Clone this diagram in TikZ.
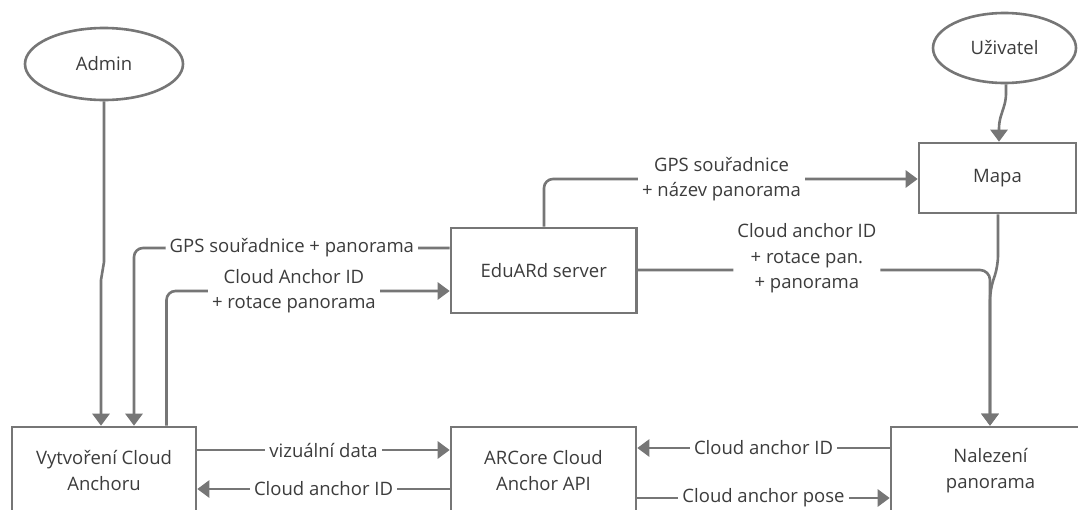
\documentclass[tikz,border=0pt]{standalone}
\usepackage{fontspec}
\setmainfont{Open Sans}
\usetikzlibrary{arrows.meta,shapes.geometric}
\definecolor{ln}{RGB}{118,118,118}
\definecolor{tx}{RGB}{60,60,60}
\begin{document}
\begin{tikzpicture}[x=1pt,y=-1pt,
  every node/.style={font=\fontsize{18.5}{25.5}\selectfont, text=tx},
  box/.style={draw=ln, line width=2.6pt, fill=white, rectangle, align=center, inner sep=0pt},
  actor/.style={draw=ln, line width=2.6pt, fill=white, ellipse, inner sep=0pt},
  conn/.style={draw=ln, line width=2.6pt, -{Triangle[length=12pt,width=17pt]}},
  lbl/.style={fill=white, inner xsep=4pt, inner ysep=1pt, align=center}]
\clip (0,0) rectangle (1078,509);
\fill[white] (0,0) rectangle (1078,509);

% nodes
\node[actor, minimum width=158pt, minimum height=72pt] (admin) at (104,64) {Admin};
\node[actor, minimum width=143pt, minimum height=70pt] (user) at (1004.5,48) {Uživatel};
\node[box, minimum width=157pt, minimum height=70pt] (mapa) at (997.5,178) {Mapa};
\node[box, minimum width=185.5pt, minimum height=85pt] (server) at (543.75,270.5) {EduARd server};
\node[box, minimum width=184pt, minimum height=87pt] (vytv) at (104,470.5) {Vytvoření Cloud\\Anchoru};
\node[box, minimum width=185pt, minimum height=87pt] (arcore) at (543.5,470.5) {ARCore Cloud\\Anchor API};
\node[box, minimum width=199pt, minimum height=87pt] (nalez) at (990.5,470.5) {Nalezení\\panorama};

% top-left connectors
\draw[conn] (admin.south) -- (104,262) -- (101,280) -- (101,0 |- vytv.north);
\draw[conn, rounded corners=9pt] (server.west |- 0,248) -- node[lbl]{GPS souřadnice + panorama} (134,248) -- (134,0 |- vytv.north);
\draw[conn, rounded corners=9pt] (166.5,0 |- vytv.north) -- (166.5,291) -- node[lbl, pos=0.45]{Cloud Anchor ID\\+ rotace panorama} (server.west |- 0,291);

% server to map
\draw[conn, rounded corners=9pt] (544,0 |- server.north) -- (544,179) -- node[lbl, pos=0.475]{GPS souřadnice\\+ název panorama} (mapa.west |- 0,179);

% user to map
\draw[conn, rounded corners=6pt] (1006,0 |- user.south) -- (1006,100) -- (999,122) -- (999,0 |- mapa.north);

% map and server to nalezeni
\draw[conn, rounded corners=10pt] (998,0 |- mapa.south) -- (998,266) -- (990,290) -- (990,0 |- nalez.north);
\draw[conn, rounded corners=10pt] (server.east |- 0,270) -- node[lbl, pos=0.48, yshift=11.5pt]{Cloud anchor ID\\+ rotace pan.\\+ panorama} (990,270) -- (990,0 |- nalez.north);

% bottom connectors
\draw[conn] (vytv.east |- 0,450) -- node[lbl]{vizuální data} (arcore.west |- 0,450);
\draw[conn] (arcore.west |- 0,489) -- node[lbl]{Cloud anchor ID} (vytv.east |- 0,489);
\draw[conn] (nalez.west |- 0,448) -- node[lbl]{Cloud anchor ID} (arcore.east |- 0,448);
\draw[conn] (arcore.east |- 0,498) -- node[lbl]{Cloud anchor pose} (nalez.west |- 0,498);
\end{tikzpicture}
\end{document}
